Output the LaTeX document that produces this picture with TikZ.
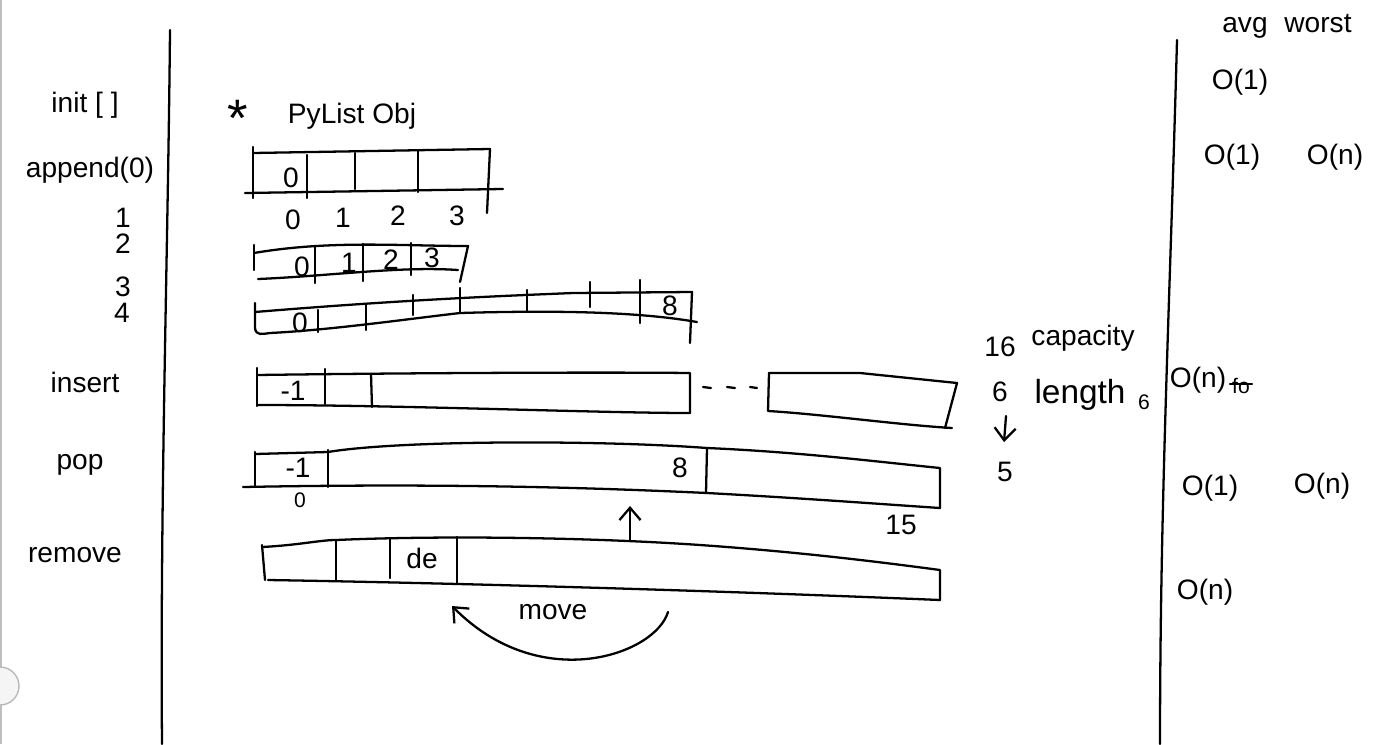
\documentclass[tikz,border=0pt]{standalone}
\usepackage{fontspec}
\setmainfont{Liberation Sans}
\usetikzlibrary{arrows.meta}

\begin{document}
\begin{tikzpicture}[x=0.02cm,y=-0.02cm,
    pen/.style={line width=1.3pt,line cap=round,line join=round},
    hand/.style={font=\fontsize{16}{16}\selectfont,inner sep=0pt},
    big/.style={font=\fontsize{19}{19}\selectfont,inner sep=0pt},
    small/.style={font=\fontsize{12}{12}\selectfont,inner sep=0pt},
    arr/.style={pen,-{Straight Barb[length=7pt,width=12pt]}}
  ]
    \useasboundingbox (0,0) rectangle (1398,744);

    % window edge
    \draw[gray!50,line width=1pt] (1,0) -- (1,744);
    \draw[gray!55,fill=gray!8,line width=0.8pt] (0,686) circle (19);

    % column rules
    \draw[pen] (170,30) .. controls (168,250) and (160,500) .. (162,744);
    \draw[pen] (1177,40) .. controls (1170,300) and (1160,500) .. (1160,744);

    % operations
    \node[hand] (init) at (85,105) {init [ ]};
    \node[hand] (app) at (90,170) {append(0)};
    \node[hand] (ap1) at (123,218) {1};
    \node[hand] (ap2) at (123,244) {2};
    \node[hand] (ap3) at (123,287) {3};
    \node[hand] (ap4) at (122,313) {4};
    \node[hand] (ins) at (85,382) {insert};
    \node[hand] (pop) at (80,465) {pop};
    \node[hand] (rem) at (75,555) {remove};

    \node[font=\fontsize{30}{30}\selectfont,inner sep=0pt] (star) at (238,118) {*};
    \node[hand] (obj) at (352,116) {PyList Obj};

    % append(0): capacity 4
    \draw[pen] (253,153) -- (490,149) -- (487,213);
    \draw[pen] (245,193) -- (503,189);
    \draw[pen] (253,147) -- (253,198);
    \foreach \x/\a/\b in {307/155/198,355/153/189,418/151/192}
      \draw[pen] (\x,\a) -- (\x,\b);
    \node[hand] (c0) at (291,178) {0};
    \node[hand] (i0) at (293,220) {0};
    \node[hand] (i1) at (343,218) {1};
    \node[hand] (i2) at (398,216) {2};
    \node[hand] (i3) at (457,216) {3};

    % full
    \draw[pen] (254,253) .. controls (330,240) and (400,246) .. (468,246) -- (460,282);
    \draw[pen] (258,279) .. controls (330,276) and (400,266) .. (458,270);
    \draw[pen] (254,245) -- (254,270);
    \foreach \x/\a/\b in {315/247/283,363/244/281,411/243/275}
      \draw[pen] (\x,\a) -- (\x,\b);
    \node[hand] (d0) at (302,267) {0};
    \node[hand] (d1) at (349,263) {1};
    \node[hand] (d2) at (391,260) {2};
    \node[hand] (d3) at (432,258) {3};

    % grown
    \draw[pen] (255,303) -- (255,328) .. controls (256,336) and (262,334) .. (270,333)
      .. controls (330,330) and (400,320) .. (460,313) .. controls (560,310) and (640,312) .. (697,322);
    \draw[pen] (255,312) .. controls (400,300) and (500,296) .. (573,293) -- (692,292) -- (690,343);
    \foreach \x/\a/\b in {318/310/332,366/305/330,413/295/315,460/288/313,527/290/312,590/282/307,640/280/323}
      \draw[pen] (\x,\a) -- (\x,\b);
    \node[hand] (e0) at (300,323) {0};
    \node[hand] (e8) at (670,306) {8};

    % insert
    \draw[pen] (257,368) -- (257,406);
    \draw[pen] (257,375) .. controls (400,373) and (600,372) .. (690,373) -- (690,413);
    \draw[pen] (257,405) .. controls (400,405) and (600,413) .. (690,413);
    \draw[pen] (325,369) -- (325,404);
    \draw[pen] (371,374) -- (372,407);
    \node[hand] (f0) at (293,391) {-1};
    \foreach \a/\b in {703/711,727/735,750/757}
      \draw[pen] (\a,387) -- (\b,388);
    \draw[pen] (769,373) -- (860,373) -- (957,383) -- (945,428);
    \draw[pen] (769,373) -- (768,411) .. controls (820,414) and (900,425) .. (952,428);

    % pop
    \draw[pen] (255,452) -- (255,487);
    \draw[pen] (255,454) -- (328,452) .. controls (400,440) and (600,440) .. (707,448)
      .. controls (800,452) and (880,462) .. (940,468) -- (940,508);
    \draw[pen] (243,487) .. controls (450,483) and (600,488) .. (707,493) .. controls (800,498) and (880,504) .. (940,508);
    \draw[pen] (328,450) -- (328,487);
    \draw[pen] (707,448) -- (706,493);
    \node[hand] (g0) at (298,468) {-1};
    \node[hand] (g8) at (680,468) {8};
    \node[small] (gi0) at (300,500) {0};
    \node[hand] (gi15) at (901,525) {15};

    % remove
    \draw[pen] (262,545) -- (265,580);
    \draw[pen] (262,547) .. controls (300,545) and (320,540) .. (336,540)
      .. controls (450,535) and (600,538) .. (700,545) .. controls (800,552) and (880,562) .. (940,570) -- (940,600);
    \draw[pen] (268,580) .. controls (450,583) and (700,590) .. (940,600);
    \foreach \x/\a/\b in {336/540/580,390/538/578,457/537/583}
      \draw[pen] (\x,\a) -- (\x,\b);
    \node[hand] (h3) at (422,558) {de};

    \coordinate (upfrom) at (630,540);
    \coordinate (upto) at (630,506);
    \draw[arr] (upfrom) -- (upto);

    \coordinate (movefrom) at (668,612);
    \coordinate (moveto) at (452,606);
    \draw[arr] (movefrom) .. controls (655,655) and (540,695) .. (moveto);
    \node[hand] (mv) at (553,612) {move};

    % capacity / length
    \node[hand] (cap16) at (1000,347) {16};
    \node[hand] (cap) at (1083,338) {capacity};
    \node[hand] (len6) at (1000,392) {6};
    \node[big] (len) at (1080,395) {length};
    \node[small] (len6b) at (1144,402) {6};
    \coordinate (dnfrom) at (1006,416);
    \coordinate (dnto) at (1004,442);
    \draw[arr] (dnfrom) -- (dnto);
    \node[hand] (len5) at (1005,472) {5};

    % cost
    \node[hand] (avg) at (1245,28) {avg};
    \node[hand] (worst) at (1318,24) {worst};
    \node[hand] (k1) at (1240,82) {O(1)};
    \node[hand] (k2) at (1232,157) {O(1)};
    \node[hand] (k3) at (1335,157) {O(n)};
    \node[hand] (k4) at (1198,380) {O(n)};
    \node[small] (k4x) at (1241,386) {fo};
    \draw[pen] (1230,384) -- (1252,384);
    \node[hand] (k5) at (1210,488) {O(1)};
    \node[hand] (k6) at (1322,486) {O(n)};
    \node[hand] (k7) at (1205,592) {O(n)};
  \end{tikzpicture}
\end{document}
